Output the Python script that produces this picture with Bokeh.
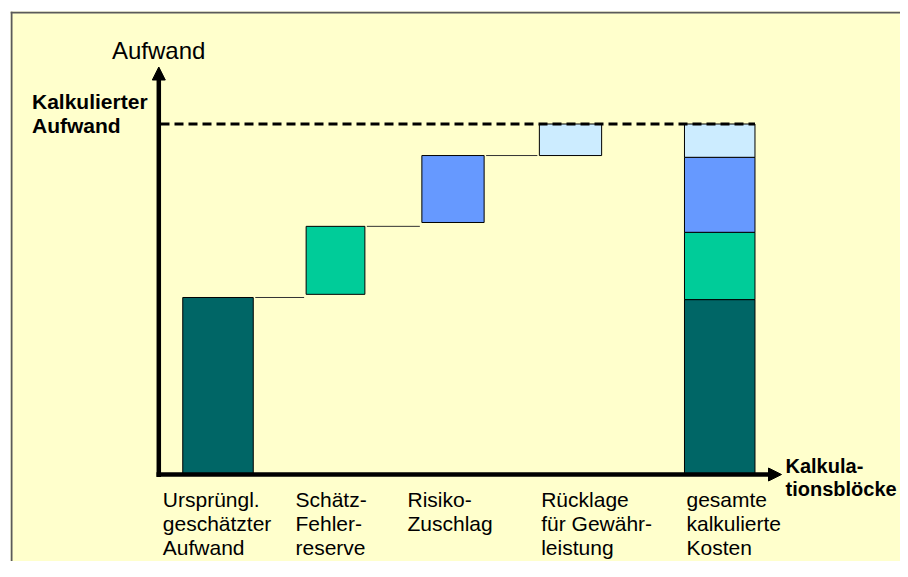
import numpy as np
from bokeh.plotting import figure
from bokeh.models import Range1d, Arrow, NormalHead, Label
from bokeh.core.properties import value
from bokeh.embed import file_html
from bokeh.resources import INLINE

# ---------------- data ----------------
categories = [
    "Ursprüngl.\ngeschätzter\nAufwand",
    "Schätz-\nFehler-\nreserve",
    "Risiko-\nZuschlag",
    "Rücklage\nfür Gewähr-\nleistung",
    "gesamte\nkalkulierte\nKosten",
]
step_bottom = [0.0, 51.4, 71.9, 91.0]      # waterfall blocks (bottom)
step_top = [50.5, 70.8, 91.0, 100.0]       # waterfall blocks (top)
total_parts = [49.9, 19.2, 21.4, 9.5]      # stacked total bar
calculated_total = 100.0                   # "Kalkulierter Aufwand"
colors = ["#006666", "#00CC99", "#6699FF", "#CCECFF"]

# ---------------- layout ----------------
W, H = 900, 561
ML, MT = 10, 11               # frame offset inside figure
FL, FT = ML, MT
FR, FB = W, H
X0, XU = 217.5, 117.5          # px of x=0, px per category step
Y0, YU = 474.0, 3.505          # px of value 0, px per unit

def fx(px):
    return (px - X0) / XU

def fy(py):
    return (Y0 - py) / YU

positions = [0.0, 1.0, 2.0, 3.0, 4.27]
widths = [0.60, 0.50, 0.53, 0.53, 0.60]
label_left_px = [162.3, 295.0, 407.0, 540.7, 686.0]

FONT_NAME = "Liberation Sans"
FONT = value(FONT_NAME)

p = figure(width=W, height=H, output_backend="svg", toolbar_location=None,
           x_axis_location=None, y_axis_location=None,
           x_range=Range1d(fx(FL), fx(FR)), y_range=Range1d(fy(FB), fy(FT)),
           min_border_left=ML, min_border_top=MT, min_border_right=0,
           min_border_bottom=0)
p.grid.visible = False
p.background_fill_color = "#FFFFCC"
p.border_fill_color = "white"
p.outline_line_color = None

# frame border (left, top)
bc = "#5a5a5a"
p.segment(x0=[fx(FL + 1), fx(FL)], x1=[fx(FL + 1), fx(FR)],
          y0=[fy(FT), fy(FT + 1)], y1=[fy(FB), fy(FT + 1)],
          line_color=bc, line_width=2)

pos = np.array(positions)
wid = np.array(widths)
left = pos - wid / 2
right = pos + wid / 2

# waterfall blocks
p.quad(left=left[:4], right=right[:4], bottom=step_bottom, top=step_top,
       fill_color=colors, line_color="black", line_width=1)

# connectors
gap = 2 / XU
p.segment(x0=right[:3] + gap, x1=left[1:4] - gap, y0=step_top[:3], y1=step_top[:3],
          line_color="#333333", line_width=1)

# stacked total bar
cum = np.cumsum(total_parts)
bottoms = np.concatenate([[0.0], cum[:-1]])
p.quad(left=[left[4]] * 4, right=[right[4]] * 4, bottom=bottoms, top=cum,
       fill_color=colors, line_color="black", line_width=1)

# dashed line of calculated total
p.segment(x0=[fx(160)], x1=[right[4]], y0=[calculated_total], y1=[calculated_total],
          line_color="black", line_width=3, line_dash="9 5")

# axes arrows
ax_x = fx(158.3)
p.add_layout(Arrow(end=NormalHead(size=13, fill_color="black", line_color="black", line_width=1),
                   x_start=ax_x, y_start=fy(476.5), x_end=ax_x, y_end=fy(66.5),
                   line_color="black", line_width=4.5))
p.add_layout(Arrow(end=NormalHead(size=13, fill_color="black", line_color="black", line_width=1),
                   x_start=fx(156), y_start=0.0, x_end=fx(781), y_end=0.0,
                   line_color="black", line_width=4.5))

# texts
p.add_layout(Label(x=fx(111.5), y=fy(36.5), text="Aufwand", text_font=FONT_NAME,
                   text_font_size="24px", text_color="black",
                   text_baseline="top", text_align="left"))
p.add_layout(Label(x=fx(31.5), y=fy(89.5), text="Kalkulierter\nAufwand", text_font=FONT_NAME,
                   text_font_size="21px", text_font_style="bold", text_color="black",
                   text_baseline="top", text_align="left", text_line_height=1.045))
p.add_layout(Label(x=fx(785.0), y=fy(454.0), text="Kalkula-\ntionsblöcke", text_font=FONT_NAME,
                   text_font_size="20px", text_font_style="bold", text_color="black",
                   text_baseline="top", text_align="left", text_line_height=1.09))

p.text(x=[fx(v) for v in label_left_px], y=[fy(487.5)] * 5, text=categories,
       text_font=FONT, text_font_size="21px", text_color="black",
       text_baseline="top", text_align="left", text_line_height=1.045)

open("out.html", "w").write(file_html(p, INLINE))
